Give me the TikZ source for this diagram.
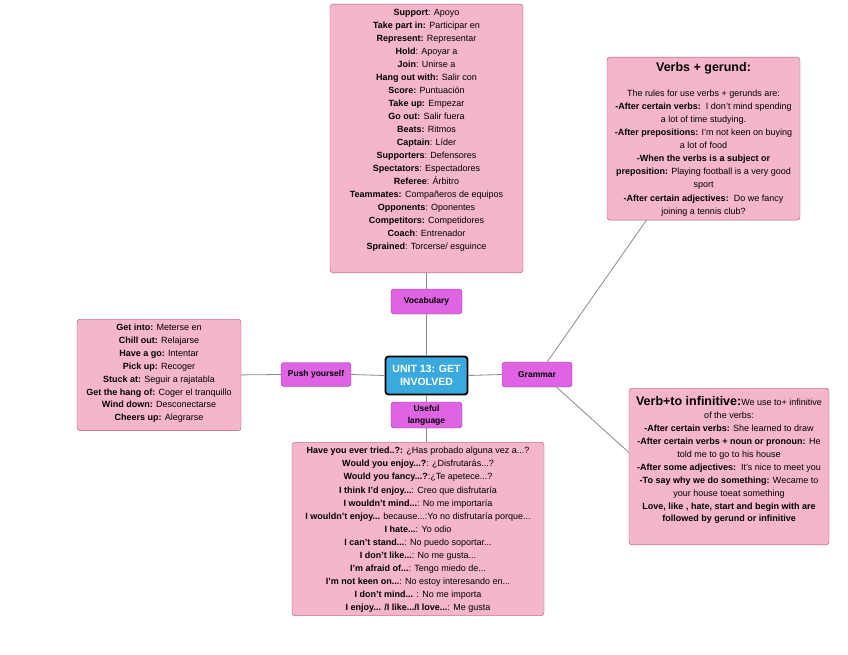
\documentclass[tikz,border=0pt]{standalone}
\usepackage{fontspec}
\setmainfont{Liberation Sans}

\definecolor{cardpink}{HTML}{F4B6C8}
\definecolor{cardedge}{HTML}{9C5A6E}
\definecolor{tagpurple}{HTML}{DE64E4}
\definecolor{tagedge}{HTML}{86368C}
\definecolor{hubblue}{HTML}{3AAADE}
\definecolor{wiregray}{HTML}{8A8A8A}

\tikzset{
	card/.style={draw=cardedge, fill=cardpink, rounded corners=3pt, anchor=north,
		inner xsep=2pt, inner ysep=3pt, align=center, font=\fontsize{9}{13}\selectfont},
	tag/.style={draw=tagedge, fill=tagpurple, rounded corners=3pt, minimum width=71pt,
		minimum height=25pt, inner sep=1pt, align=center, font=\fontsize{8.5}{12}\selectfont\bfseries},
	hub/.style={draw=black, line width=1.8pt, fill=hubblue, rounded corners=3pt, text=white,
		minimum width=82pt, minimum height=38pt, align=center, font=\fontsize{10.5}{13}\selectfont\bfseries},
	wire/.style={draw=wiregray, line width=0.8pt}
}

\begin{document}
\begin{tikzpicture}[x=1pt, y=-1pt]
	\useasboundingbox (0, 0) rectangle (848, 655);

	% centre and topics
	\node[hub] (hub) at (426.5, 375.5) {UNIT 13: GET\\INVOLVED};
	\node[tag] (vocab) at (426.5, 301.5) {Vocabulary};
	\node[tag, minimum height=26pt] (uselang) at (426.5, 415) {Useful\\language};
	\node[tag, minimum width=70pt, minimum height=24pt] (push) at (316, 374.5) {Push yourself};
	\node[tag, minimum width=70pt] (grammar) at (537, 374.5) {Grammar};

	% cards
	\node[card, minimum width=193pt, text depth=20pt] (vocabcard) at (426.5, 4) {%
		\rule{0pt}{8.6pt}\textbf{Support}: Apoyo\\
		\textbf{Take part in:} Participar en\\
		\textbf{Represent:} Representar\\
		\textbf{Hold}: Apoyar a\\
		\textbf{Join}: Unirse a\\
		\textbf{Hang out with:} Salir con\\
		\textbf{Score:} Puntuación\\
		\textbf{Take up:} Empezar\\
		\textbf{Go out:} Salir fuera\\
		\textbf{Beats:} Ritmos\\
		\textbf{Captain}: Líder\\
		\textbf{Supporters}: Defensores\\
		\textbf{Spectators}: Espectadores\\
		\textbf{Referee}: Árbitro\\
		\textbf{Teammates:} Compañeros de equipos\\
		\textbf{Opponents}: Oponentes\\
		\textbf{Competitors:} Competidores\\
		\textbf{Coach}: Entrenador\\
		\textbf{Sprained}: Torcerse/ esguince};

	\node[card, minimum width=164pt, text depth=6.8pt, font=\fontsize{9}{12.86}\selectfont] (pushcard) at (159, 319) {%
		\rule{0pt}{8.6pt}\textbf{Get into:} Meterse en\\
		\textbf{Chill out:} Relajarse\\
		\textbf{Have a go:} Intentar\\
		\textbf{Pick up:} Recoger\\
		\textbf{Stuck at:} Seguir a rajatabla\\
		\textbf{Get the hang of:} Coger el tranquillo\\
		\textbf{Wind down:} Desconectarse\\
		\textbf{Cheers up:} Alegrarse};

	\node[card, minimum width=252pt, text depth=2pt, font=\fontsize{9}{13.08}\selectfont] (usecard) at (418, 442) {%
		\rule{0pt}{8.6pt}\textbf{Have you ever tried..?:} ¿Has probado alguna vez a...?\\
		\textbf{Would you enjoy...?}: ¿Disfrutarás...?\\
		\textbf{Would you fancy...?}:¿Te apetece...?\\
		\textbf{I think I'd enjoy...}: Creo que disfrutaría\\
		\textbf{I wouldn't mind...}: No me importaría\\
		\textbf{I wouldn't enjoy...} because...:Yo no disfrutaría porque...\\
		\textbf{I hate...}: Yo odio\\
		\textbf{I can't stand...}: No puedo soportar...\\
		\textbf{I don't like...}: No me gusta...\\
		\textbf{I'm afraid of...}: Tengo miedo de...\\
		\textbf{I'm not keen on...}: No estoy interesando en...\\
		\textbf{I don't mind...} : No me importa\\
		\textbf{I enjoy... /I like.../I love...}: Me gusta};

	\node[card, minimum width=193pt, text depth=3pt, font=\fontsize{9}{13.1}\selectfont] (gerundcard) at (703.5, 57) {%
		\rule{0pt}{11.5pt}{\fontsize{12.5}{15}\selectfont\textbf{Verbs + gerund:}}\\[11.4pt]
		The rules for use verbs + gerunds are:\\
		\textbf{-After certain verbs:}\ \ I don't mind spending\\
		a lot of time studying.\\
		\textbf{-After prepositions:} I'm not keen on buying\\
		a lot of food\\
		\textbf{-When the verbs is a subject or}\\
		\textbf{preposition:} Playing football is a very good\\
		sport\\
		\textbf{-After certain adjectives:}\ \ Do we fancy\\
		joining a tennis club?};

	\node[card, minimum width=200pt, text depth=20pt, font=\fontsize{9}{12.9}\selectfont] (infcard) at (729, 388) {%
		\rule{0pt}{14.6pt}{\fontsize{12.5}{15}\selectfont\textbf{Verb+to infinitive:}}We use to+ infinitive\\
		of the verbs:\\
		\textbf{-After certain verbs:} She learned to draw\\
		\textbf{-After certain verbs + noun or pronoun:} He\\
		told me to go to his house\\
		\textbf{-After some adjectives:}\ \ It's nice to meet you\\
		\textbf{-To say why we do something:} Wecame to\\
		your house toeat something\\
		\textbf{Love, like , hate, start and begin with are}\\
		\textbf{followed by gerund or infinitive}};

	% links
	\draw[wire] (vocabcard.south) -- (vocab.north);
	\draw[wire] (vocab.south) -- (hub.north);
	\draw[wire] (hub.south) -- (uselang.north);
	\draw[wire] (uselang.south) -- (uselang.south |- usecard.north);
	\draw[wire] (hub.west) -- (push.east);
	\draw[wire] (push.west) -- (pushcard.east);
	\draw[wire] (hub.east) -- (grammar.west);
	\draw[wire] (grammar.51) -- (gerundcard.235);
	\draw[wire] (grammar.-33) -- (infcard.172);
\end{tikzpicture}
\end{document}
